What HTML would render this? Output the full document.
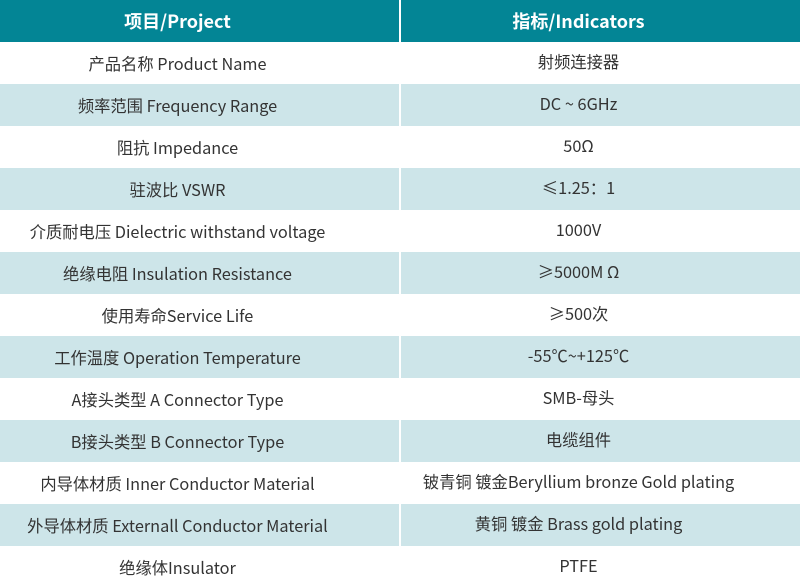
<!DOCTYPE html>
<html><head><meta charset="utf-8"><style>
body{margin:0;width:800px;height:588px;overflow:hidden;background:#fff;font-family:"Noto Sans CJK SC",sans-serif;}
table{border-collapse:collapse;width:800px;table-layout:fixed;}
td,th{height:42px;padding:0 44px 0 0;text-align:center;font-size:16.3px;color:#333;line-height:20px;box-sizing:border-box;}
td:last-child{padding-bottom:4px;}
th{background:#038595;color:#fff;font-size:18px;font-weight:bold;}
td:first-child,th:first-child{border-right:2px solid #fff;width:400px;}
tr:nth-child(odd) td{background:#cde5e9;}
</style></head><body>
<table>
<tr><th>项目/Project</th><th>指标/Indicators</th></tr>
<tr><td>产品名称 Product Name</td><td>射频连接器</td></tr>
<tr><td>频率范围 Frequency Range</td><td>DC ~ 6GHz</td></tr>
<tr><td>阻抗 Impedance</td><td>50Ω</td></tr>
<tr><td>驻波比 VSWR</td><td>≤1.25：1</td></tr>
<tr><td>介质耐电压 Dielectric withstand voltage</td><td>1000V</td></tr>
<tr><td>绝缘电阻 Insulation Resistance</td><td>≥5000M Ω</td></tr>
<tr><td>使用寿命Service Life</td><td>≥500次</td></tr>
<tr><td>工作温度 Operation Temperature</td><td>-55℃~+125℃</td></tr>
<tr><td>A接头类型 A Connector Type</td><td>SMB-母头</td></tr>
<tr><td>B接头类型 B Connector Type</td><td>电缆组件</td></tr>
<tr><td>内导体材质 Inner Conductor Material</td><td>铍青铜 镀金Beryllium bronze Gold plating</td></tr>
<tr><td>外导体材质 Externall Conductor Material</td><td>黄铜 镀金 Brass gold plating</td></tr>
<tr><td>绝缘体Insulator</td><td>PTFE</td></tr>
</table>
</body></html>
